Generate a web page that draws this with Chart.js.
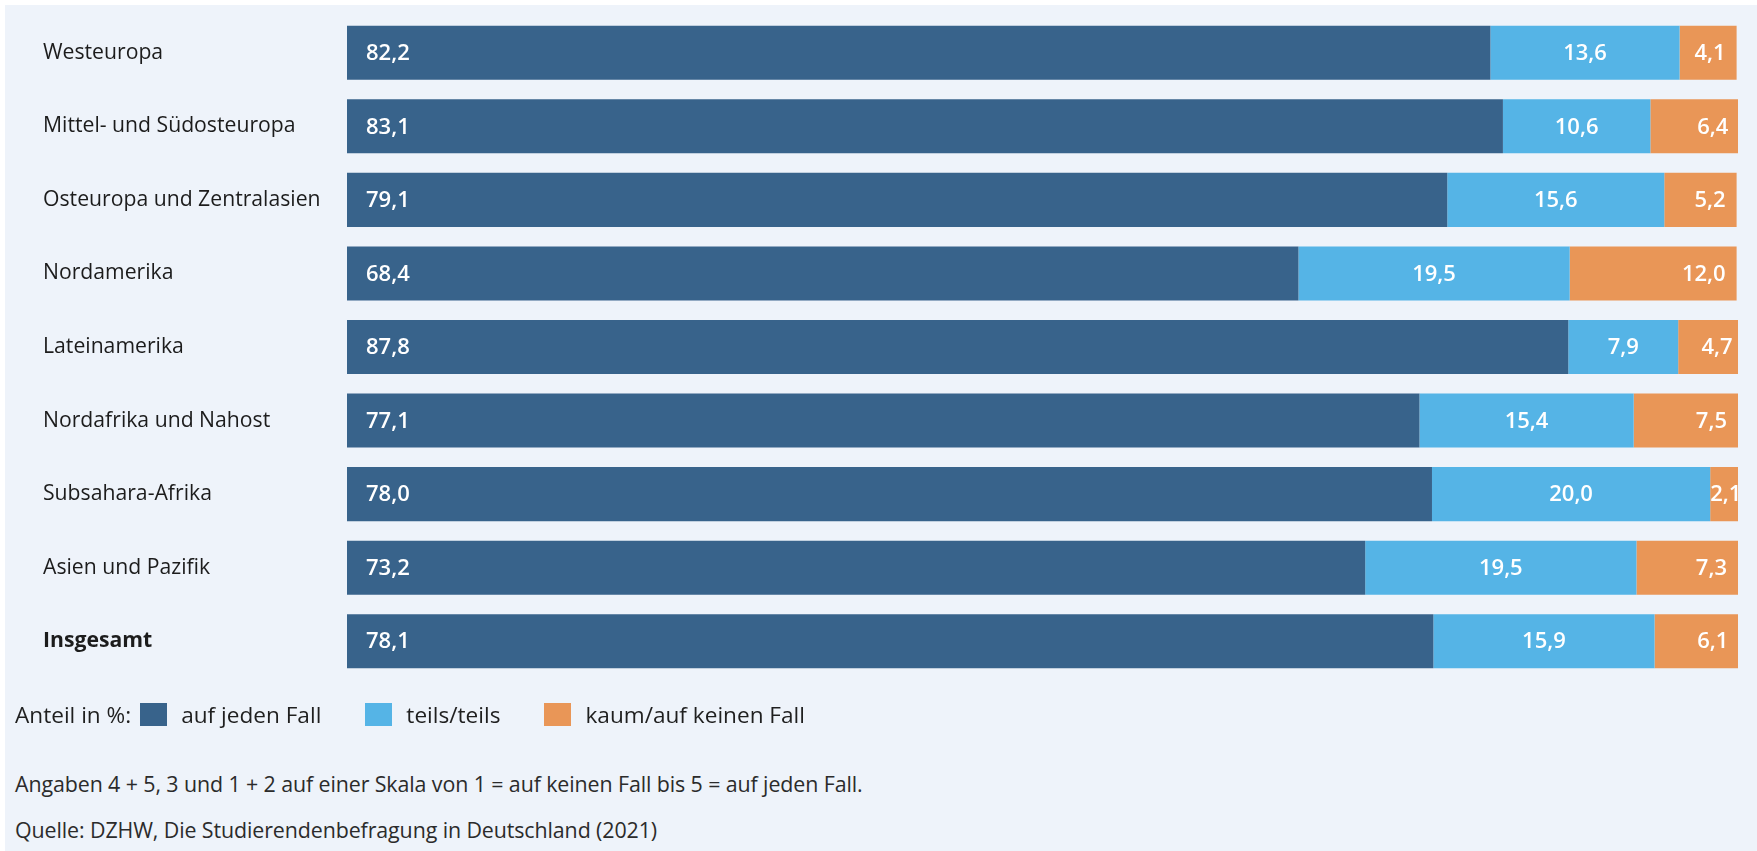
<!DOCTYPE html>
<html lang="de">
<head>
<meta charset="utf-8">
<script src="https://cdn.jsdelivr.net/npm/chart.js@4/dist/chart.umd.min.js"></script>
<style>
  html, body { margin: 0; padding: 0; background: #fff; }
  body { width: 1757px; height: 851px; position: relative; overflow: hidden; font-family: "Open Sans", sans-serif; }
  #panel { position: absolute; left: 5px; top: 5px; right: 0; bottom: 0; background: #eef3fa; }
  #chartBox { position: absolute; left: 0; top: 0; width: 1757px; height: 700px; }
  .legend { position: absolute; left: 15px; top: 698px; height: 32px; display: flex; align-items: center; font-size: 22.6px; color: #1f1f1f; }
  .legend .sw { display: inline-block; width: 27px; height: 23px; margin: 0 14px 0 9px; }
  .legend .item { display: flex; align-items: center; margin-right: 35px; }
  .note { position: absolute; left: 15px; font-size: 21.4px; color: #2b2b2b; white-space: nowrap; letter-spacing: -0.1px; }
</style>
</head>
<body>
<div id="panel"></div>
<div id="chartBox"><canvas id="chart"></canvas></div>

<div class="legend" id="legend">
  <span>Anteil in %:</span>
</div>
<div class="note" style="top:769px">Angaben 4 + 5, 3 und 1 + 2 auf einer Skala von 1 = auf keinen Fall bis 5 = auf jeden Fall.</div>
<div class="note" style="top:815px">Quelle: DZHW, Die Studierendenbefragung in Deutschland (2021)</div>

<script>
// DATA
const regions = [
    'Westeuropa',
    'Mittel- und Südosteuropa',
    'Osteuropa und Zentralasien',
    'Nordamerika',
    'Lateinamerika',
    'Nordafrika und Nahost',
    'Subsahara-Afrika',
    'Asien und Pazifik',
    'Insgesamt'
];
const seriesNames = ['auf jeden Fall', 'teils/teils', 'kaum/auf keinen Fall'];
const aufJedenFall = [82.2, 83.1, 79.1, 68.4, 87.8, 77.1, 78.0, 73.2, 78.1];
const teilsTeils   = [13.6, 10.6, 15.6, 19.5, 7.9, 15.4, 20.0, 19.5, 15.9];
const kaumKeinen   = [4.1, 6.4, 5.2, 12.0, 4.7, 7.5, 2.1, 7.3, 6.1];
const colors = ['#38638b', '#55b4e6', '#e99657'];

document.addEventListener('DOMContentLoaded', () => {

    // ===================================================
    // LEGEND (html)
    // ===================================================
    const legendEl = document.getElementById('legend');
    seriesNames.forEach((name, i) => {
        const item = document.createElement('span');
        item.className = 'item';
        item.innerHTML = `<span class="sw" style="background:${colors[i]}"></span>${name}`;
        legendEl.appendChild(item);
    });

    const fmt = v => v.toFixed(1).replace('.', ',');

    // ===================================================
    // VALUE LABELS PLUGIN
    // ===================================================
    const valueLabels = {
        id: 'valueLabels',
        afterDatasetsDraw(chart) {
            const ctx = chart.ctx;
            ctx.save();
            ctx.font = '600 22px "Open Sans"';
            ctx.fillStyle = '#ffffff';
            ctx.textBaseline = 'middle';
            chart.data.datasets.forEach((ds, di) => {
                const meta = chart.getDatasetMeta(di);
                meta.data.forEach((bar, i) => {
                    const txt = fmt(ds.data[i]);
                    const left = Math.min(bar.base, bar.x);
                    const right = Math.max(bar.base, bar.x);
                    const w = ctx.measureText(txt).width;
                    const y = bar.y + 1;
                    if(di === 0) {
                        ctx.textAlign = 'left';
                        ctx.fillText(txt, left + 19, y);
                    } else if(di === 1) {
                        ctx.textAlign = 'center';
                        ctx.fillText(txt, (left + right) / 2, y);
                    } else {
                        if(right - 11 - w < left) {
                            ctx.textAlign = 'left';
                            ctx.fillText(txt, left, y);
                        } else {
                            ctx.textAlign = 'right';
                            ctx.fillText(txt, right - 11, y);
                        }
                    }
                });
            });
            ctx.restore();
        }
    };

    // ===================================================
    // CHART
    // ===================================================
    const allSeries = [aufJedenFall, teilsTeils, kaumKeinen];

    new Chart(document.getElementById('chart'), {
        type: 'bar',
        data: {
            labels: regions,
            datasets: allSeries.map((vals, i) => ({
                label: seriesNames[i],
                data: vals,
                backgroundColor: colors[i],
                borderWidth: 0,
                barPercentage: 0.735,
                categoryPercentage: 1
            }))
        },
        options: {
            indexAxis: 'y',
            responsive: true,
            maintainAspectRatio: false,
            animation: false,
            layout: { padding: { left: 43, top: 16, right: 19, bottom: 22 } },
            plugins: {
                legend: { display: false },
                tooltip: { enabled: false }
            },
            scales: {
                x: {
                    stacked: true,
                    min: 0,
                    max: 100,
                    display: false
                },
                y: {
                    stacked: true,
                    grid: { display: false },
                    border: { display: false },
                    afterFit: scale => { scale.width = 304; },
                    ticks: {
                        crossAlign: 'far',
                        color: '#1c1c1c',
                        font: ctx => ({
                            family: '"Open Sans"',
                            size: 21.2,
                            weight: ctx.index === regions.length - 1 ? 'bold' : 'normal'
                        })
                    }
                }
            }
        },
        plugins: [valueLabels]
    });
});
</script>
</body>
</html>
